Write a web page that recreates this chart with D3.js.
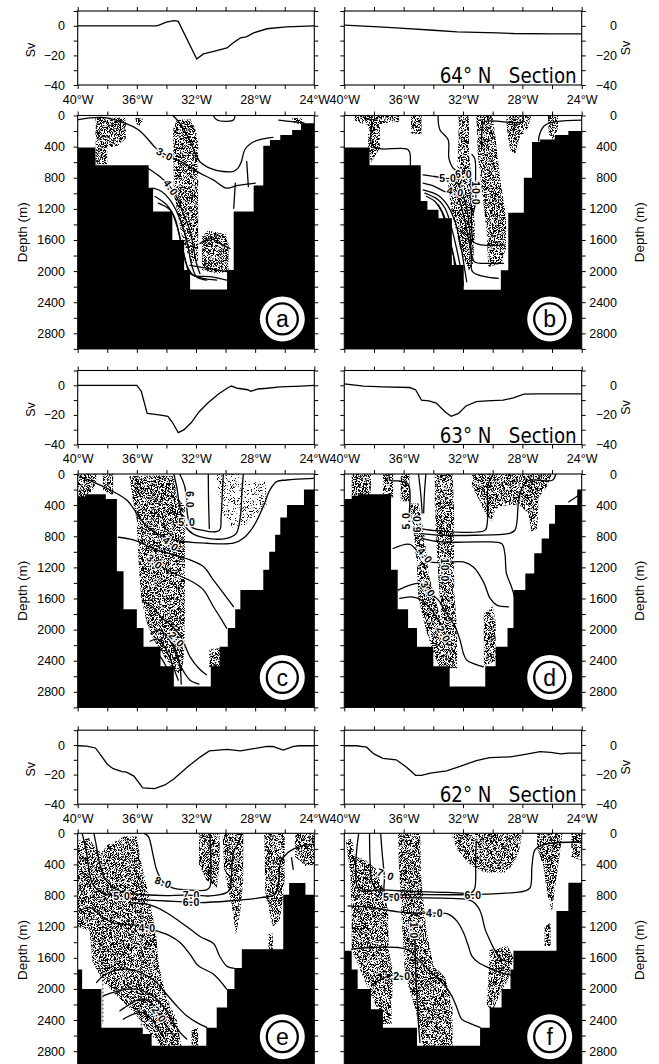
<!DOCTYPE html>
<html>
<head>
<meta charset="utf-8">
<script src="https://cdn.jsdelivr.net/npm/d3@7"></script>
<style>
  html, body { margin: 0; padding: 0; background: #fff; }
  svg { display: block; font-family: "Liberation Sans", Arial, sans-serif; }
</style>
</head>
<body>
<svg id="fig" width="659" height="1064"></svg>
<script>
// ---------------- axis tick values ----------------
const LON_LABELS = [-40, -36, -32, -28, -24];
const DEPTH_LABELS = [0, 400, 800, 1200, 1600, 2000, 2400, 2800];
const SV_LABELS = [0, -20, -40];
const SECTIONS = ["64° N   Section", "63° N   Section", "62° N   Section"];
const LETTERS = ["a", "b", "c", "d", "e", "f"];

// ---------------- accumulated transport (Sv) vs longitude ----------------
const sv64W = [[-40,0],[-34.7,0],[-34.5,0.5],[-34.0,2.5],[-33.5,3.5],[-33.2,3],[-31.95,-22.5],[-31.5,-19],[-30.8,-17.3],[-29.9,-15],[-29.5,-11.6],[-29.0,-8.2],[-28.6,-7.5],[-28.1,-4.8],[-27.2,-2],[-25.9,-0.7],[-24,0]];
const sv64E = [[-40,0.5],[-38,-0.5],[-36.5,-1.4],[-34,-3],[-32.4,-4.1],[-29.7,-4.8],[-28.6,-5.2],[-26,-5.5],[-24,-5.5]];
const sv63W = [[-40,0],[-36.0,0],[-35.7,-4],[-35.3,-19],[-34.9,-19.5],[-34.5,-20],[-33.9,-21],[-33.6,-25],[-33.2,-32],[-32.8,-30],[-32.3,-25],[-31.8,-18],[-31.2,-12],[-30.5,-6],[-29.9,-2],[-29.6,-0.5],[-29.2,-2],[-28.5,-3],[-28.3,-4],[-27.8,-2.5],[-27.2,-2],[-26.3,-1],[-24.9,-0.5],[-24,0]];
const sv63E = [[-40,1],[-38.7,-0.5],[-37.4,-1],[-35.6,-1.5],[-35.2,-3],[-34.8,-10],[-34.3,-10.5],[-33.8,-12],[-33.2,-18],[-32.8,-21],[-32.3,-19],[-31.8,-14],[-31.1,-11],[-30.4,-10.5],[-29.3,-10],[-28.6,-8.5],[-27.9,-6],[-27.0,-5.8],[-24,-5.8]];
const sv62W = [[-40,-0.5],[-39.4,-0.7],[-38.8,-2],[-38.5,-6],[-38.0,-13],[-37.6,-16],[-37.0,-18],[-36.7,-18.3],[-36.2,-21],[-35.6,-29],[-34.8,-29.5],[-34.1,-27],[-33.5,-23],[-32.6,-15],[-31.7,-8],[-31.1,-4],[-29.9,-3],[-29.0,-4],[-28.1,-2.5],[-27.2,-1],[-26.8,-1],[-26.1,-3.5],[-25.4,-1],[-25.0,-0.5],[-24,-0.5]];
const sv62E = [[-40,-0.5],[-39.2,-0.5],[-38.5,-1.5],[-38.0,-6],[-37.4,-9],[-36.5,-10],[-35.8,-15],[-35.2,-20.5],[-34.8,-20.5],[-34.2,-19],[-33.1,-17.5],[-32.2,-14.5],[-31.1,-10.5],[-30.2,-8.5],[-28.8,-8],[-27.9,-6.5],[-26.8,-4.5],[-26.1,-5],[-25.4,-6],[-24.9,-5.5],[-24,-5.5]];

// ---------------- model bottom: [lon where step starts, depth m] ----------------
const bathyA = [[-40,410],[-38.8,640],[-35.2,930],[-34.9,1235],[-33.6,1600],[-32.8,1985],[-32.4,2235],[-29.9,1985],[-29.45,1235],[-28.1,900],[-27.45,390],[-27.0,316],[-26.3,251],[-25.5,187],[-24.9,101],[-24,101]];
const bathyB = [[-40,410],[-38.3,640],[-34.85,1100],[-34.4,1210],[-33.65,1320],[-32.75,1920],[-31.95,2240],[-29.45,1990],[-28.95,1250],[-27.9,800],[-27.35,340],[-26.8,310],[-25.8,250],[-24.9,200],[-24,200]];
const bathyC = [[-40,290],[-39.5,260],[-38.1,320],[-37.35,1250],[-36.9,1740],[-36.0,1980],[-35.55,2220],[-34.4,2470],[-33.5,2730],[-31.0,2470],[-30.4,2220],[-29.85,1980],[-29.35,1740],[-29.0,1490],[-27.45,1230],[-27.05,1000],[-26.65,780],[-26.3,560],[-25.85,400],[-24.7,200],[-24,200]];
const bathyD = [[-40,320],[-39.5,280],[-39.05,260],[-36.85,1230],[-36.4,1740],[-35.7,1980],[-35.1,2220],[-34.0,2470],[-32.9,2730],[-30.5,2470],[-29.8,2220],[-29.0,1980],[-28.6,1490],[-27.8,1280],[-27.2,1020],[-26.7,830],[-26.2,640],[-25.8,400],[-24.3,200],[-24,200]];
const bathyE = [[-40,1750],[-39.7,2000],[-38.4,2500],[-35.6,2580],[-35.0,2730],[-31.3,2500],[-30.6,2240],[-29.9,2000],[-29.4,1730],[-28.9,1490],[-26.1,790],[-25.7,640],[-24.6,790],[-24,790]];
const bathyF = [[-40,1510],[-39.5,1750],[-39.1,2000],[-38.2,2260],[-37.4,2500],[-35.1,2730],[-30.85,2500],[-30.2,2240],[-29.4,2000],[-28.8,1750],[-28.6,1510],[-25.7,1000],[-24.9,635],[-24,635]];

// ---------------- shaded regions: [lon, depth] outlines ----------------
const stipA = [
  [[-38.8,30],[-36.75,30],[-36.75,300],[-37.3,390],[-38.0,410],[-38.0,625],[-38.8,625]],
  [[-33.3,60],[-32.4,40],[-32.1,150],[-31.85,300],[-31.85,1860],[-32.3,1900],[-32.9,1600],[-33.5,1000],[-33.55,180]],
  [[-31.6,1560],[-31.2,1480],[-30.6,1500],[-30.0,1530],[-29.8,1650],[-29.8,2000],[-30.5,2030],[-31.6,1990]],
  [[-36.1,30],[-35.6,40],[-35.7,140],[-36.0,120]],
  [[-25.5,30],[-24.8,40],[-24.9,110],[-25.4,100]]
];
const stipB = [
  [[-39.3,0],[-36.3,0],[-36.3,80],[-37.4,100],[-37.6,130],[-37.6,420],[-38.2,600],[-38.4,400],[-38.4,120],[-38.9,100],[-39.3,60]],
  [[-35.5,0],[-34.8,0],[-34.8,240],[-35.5,240]],
  [[-32.3,0],[-31.6,0],[-31.6,500],[-31.3,1000],[-31.2,1500],[-31.3,1900],[-31.6,2000],[-32.2,1700],[-32.8,1200],[-33.0,900],[-32.4,700],[-32.3,300]],
  [[-31.1,0],[-30.0,0],[-29.8,300],[-29.5,800],[-29.1,1300],[-29.1,1700],[-29.4,1900],[-30.3,1950],[-30.4,1500],[-30.7,1000],[-31.0,500]],
  [[-29.1,0],[-27.4,0],[-27.6,150],[-28.2,300],[-28.5,500],[-28.8,450],[-29.0,250]],
  [[-26.3,0],[-25.6,0],[-25.6,150],[-25.9,330],[-26.2,250]]
];
const stipC = [
  [[-40,0],[-38.7,0],[-38.8,150],[-39.4,300],[-40,300]],
  [[-38.3,0],[-37.6,0],[-37.6,280],[-38.3,200]],
  [[-36.5,30],[-35.1,20],[-34.4,20],[-33.5,30],[-33.3,300],[-32.75,420],[-32.75,1900],[-32.8,2300],[-33.0,2600],[-33.6,2500],[-34.5,2250],[-35.1,2050],[-35.4,1850],[-35.7,1600],[-35.9,1100],[-36.0,600],[-36.3,300]],
  [[-31.1,2250],[-30.25,2240],[-30.25,2480],[-31.1,2480]]
];
const stipCSparse = [
  [[-30.6,0],[-29.1,0],[-28.6,100],[-27.3,100],[-27.2,400],[-28.6,650],[-29.5,700],[-30.2,500],[-30.6,200]]
];
const stipD = [
  [[-39.5,0],[-38.2,0],[-38.2,280],[-39.5,280]],
  [[-37.4,0],[-36.7,0],[-36.7,300],[-37.4,300]],
  [[-36.2,0],[-35.6,0],[-35.6,350],[-36.2,350]],
  [[-35.6,380],[-35.0,380],[-34.6,800],[-34.3,1300],[-33.6,1800],[-33.1,2200],[-32.9,2450],[-33.6,2470],[-34.0,2300],[-34.5,2000],[-35.0,1600],[-35.1,1200],[-35.3,800]],
  [[-33.9,0],[-32.7,0],[-32.6,500],[-32.6,1500],[-32.4,2000],[-32.4,2500],[-33.1,2500],[-33.4,2000],[-33.6,1500],[-33.8,900],[-33.9,400]],
  [[-31.4,0],[-26.0,0],[-26.3,150],[-26.9,300],[-27.0,700],[-27.4,740],[-27.6,500],[-28.2,400],[-29.0,400],[-29.8,450],[-30.1,600],[-30.5,500],[-31.0,300],[-31.4,150]],
  [[-30.6,1800],[-30.0,1700],[-29.8,1900],[-29.8,2400],[-30.6,2470]]
];
const stipE = [
  [[-40,100],[-39.2,60],[-38.8,200],[-38.4,250],[-38.0,150],[-37.4,100],[-36.9,40],[-36.0,40],[-35.8,300],[-35.3,700],[-35.0,1000],[-34.7,1300],[-34.5,1700],[-34.0,2100],[-33.3,2400],[-33.0,2730],[-34.4,2730],[-35.4,2500],[-36.2,2300],[-37.3,2100],[-38.3,1900],[-39.0,1650],[-39.2,1250],[-40,1200]],
  [[-31.8,0],[-30.4,0],[-30.4,400],[-30.6,700],[-31.3,600],[-31.8,400]],
  [[-30.2,0],[-28.8,0],[-28.8,600],[-29.0,1000],[-29.3,1300],[-29.6,900],[-30.1,500]],
  [[-27.4,0],[-26.0,0],[-26.0,600],[-26.3,1100],[-26.8,1200],[-27.3,800]],
  [[-27.1,1300],[-26.8,1280],[-26.8,1500],[-27.1,1500]],
  [[-25.3,0],[-24.0,0],[-24.0,400],[-24.6,420],[-25.3,300]],
  [[-32.3,2520],[-31.85,2500],[-31.85,2730],[-32.3,2730]]
];
const stipF = [
  [[-39.9,100],[-39.5,60],[-39.3,300],[-38.7,330],[-37.9,450],[-37.4,700],[-37.05,1000],[-37.0,1500],[-36.7,1800],[-36.8,2200],[-36.8,2450],[-37.5,2450],[-37.9,2200],[-38.6,1900],[-39.5,1500],[-39.5,1000],[-39.6,500]],
  [[-36.4,0],[-34.9,0],[-34.8,600],[-34.5,1200],[-34.0,1700],[-33.2,1850],[-32.7,2250],[-32.7,2730],[-34.7,2730],[-35.2,2260],[-35.9,1830],[-36.1,1200],[-36.3,500]],
  [[-32.8,0],[-28.0,0],[-28.25,250],[-28.7,420],[-29.2,505],[-30.5,505],[-31.4,420],[-32.3,250]],
  [[-27.0,0],[-25.3,0],[-25.5,300],[-25.8,700],[-26.0,1000],[-26.3,800],[-26.6,400],[-27.0,200]],
  [[-24.7,0],[-24.0,0],[-24.0,350],[-24.7,300]],
  [[-26.5,1200],[-26.1,1150],[-26.1,1450],[-26.5,1450]],
  [[-30.2,1500],[-29.0,1450],[-28.6,1600],[-29.0,1900],[-29.5,2050],[-30.0,2300],[-30.4,2200],[-30.3,1900]]
];

// ---------------- isotherms: [lon, depth] ----------------
const contA = [
  [[-39.96,54],[-38.38,24],[-36.8,97],[-35.9,183],[-35.22,311],[-34.77,410],[-34.3,480],[-33.53,548],[-32.63,634],[-31.73,741],[-30.83,827],[-29.93,934],[-29.25,900],[-28.57,883],[-28.0,870]],
  [[-33.56,0],[-33.1,97],[-32.5,290],[-32.1,462],[-31.75,591],[-31.07,676],[-30.17,720],[-29.5,720],[-29.16,676],[-28.93,591],[-28.7,440],[-28.25,354],[-27.7,311],[-26.8,281]],
  [[-35.22,681],[-34.43,788],[-33.98,865],[-33.31,1046],[-32.86,1261],[-32.41,1476],[-32.18,1690],[-31.96,1905],[-31.73,2034]],
  [[-34.89,934],[-34.32,977],[-33.76,1085],[-33.31,1235],[-32.86,1450],[-32.52,1707],[-32.29,1922],[-31.96,2072],[-31.28,2115]],
  [[-34.77,1041],[-33.98,1149],[-33.42,1321],[-33.08,1578],[-32.74,1836],[-32.41,2029],[-31.51,2094],[-30.6,2115]],
  [[-34.55,1127],[-33.76,1213],[-33.31,1407],[-32.97,1664],[-32.63,1922],[-32.18,2051],[-31.05,2072],[-29.93,2115]],
  [[-31.73,1647],[-31.05,1583],[-30.37,1647],[-29.7,1712]],
  [[-32.41,1926],[-31.05,1969],[-29.7,2012]],
  [[-28.57,591],[-28.46,913]],
  [[-29.34,870],[-29.45,1192]],
  [[-30.83,0],[-30.6,55],[-29.9,75],[-29.45,55],[-29.36,0]],
  [[-26.4,60],[-25.5,80],[-24.7,95]]
];
const contB = [
  [[-38.6,40],[-38.2,60],[-38.2,350],[-37.9,410],[-37.5,430],[-35.8,430],[-35.6,470],[-35.55,640]],
  [[-33.68,0],[-33.56,183],[-33.0,311],[-32.95,548],[-32.66,676],[-32.2,728],[-31.76,754],[-31.52,805],[-31.45,1106],[-31.41,1450],[-31.3,1621],[-30.74,1664],[-29.16,1664]],
  [[-34.68,762],[-33.9,784],[-33.33,805],[-32.88,815],[-32.42,857],[-32.09,977],[-31.75,1192],[-31.52,1535],[-31.41,1793],[-31.19,1887],[-30.52,1900],[-29.27,1900]],
  [[-34.68,870],[-33.9,913],[-33.22,977],[-32.65,986],[-32.31,1063],[-31.97,1278],[-31.68,1535],[-31.45,1793],[-31.36,2008],[-30.52,2072],[-29.61,2094]],
  [[-34.68,956],[-33.66,1029],[-32.99,1170],[-32.54,1364],[-32.2,1621],[-31.97,1879],[-31.75,2137]],
  [[-34.57,999],[-33.66,1085],[-33.21,1192],[-32.88,1364],[-32.54,1621],[-32.2,1922],[-31.97,2180]],
  [[-34.45,1041],[-33.89,1106],[-33.44,1235],[-33.1,1450],[-32.76,1707],[-32.43,1965]],
  [[-33.66,1149],[-33.21,1321],[-32.99,1536],[-32.65,1793],[-32.54,2051]],
  [[-31.4,500],[-31.2,560],[-31.15,800],[-31.15,1100],[-31.3,1250]],
  [[-30.75,400],[-30.7,150],[-30.55,80],[-28.0,80],[-27.95,0]],
  [[-26.9,330],[-26.85,250],[-26.5,130],[-25.7,80],[-24,60]]
];
const contC = [
  [[-33.1,0],[-32.75,170],[-32.55,550],[-32.3,680],[-31.5,725],[-30.9,745],[-30.4,720],[-30.3,550],[-30.2,170],[-30.15,0]],
  [[-33.5,0],[-33.3,170],[-33.1,420],[-32.8,650],[-32.2,770],[-31.1,830],[-30.0,830],[-29.3,770],[-29.0,550],[-28.9,250],[-28.8,0]],
  [[-39.84,34],[-38.26,163],[-36.69,334],[-36.01,505],[-35.33,676],[-34.66,762],[-33.53,847],[-31.28,890],[-29.47,890],[-28.8,826],[-28.12,676],[-27.45,419],[-27.0,205],[-26.55,98],[-25.87,77],[-24.07,56]],
  [[-31.17,0],[-31.15,350],[-31.1,700]],
  [[-37.25,813],[-36.24,847],[-34.66,976],[-33.08,1061],[-32.4,1104],[-31.5,1190],[-30.83,1361],[-30.15,1532],[-29.47,1703]],
  [[-35.33,1083],[-33.98,1232],[-32.29,1382],[-31.5,1489],[-30.83,1703],[-30.26,1874],[-29.93,1981]],
  [[-35.6,1640],[-35.0,1700],[-34.3,1850],[-33.6,1960],[-33.0,2100],[-32.4,2350],[-31.8,2500],[-31.3,2580]],
  [[-35.0,2050],[-34.5,2000],[-34.0,2080],[-33.6,2200],[-33.2,2400],[-32.8,2550],[-32.4,2650],[-31.8,2700]],
  [[-35.1,2150],[-34.6,2120],[-34.2,2200],[-33.8,2350],[-33.5,2500],[-33.2,2650]],
  [[-34.6,2300],[-34.3,2380],[-34.0,2480]],
  [[-33.8,2050],[-33.4,2250],[-33.1,2450],[-33.0,2700]]
];
const contD = [
  [[-37.0,0],[-36.9,80],[-36.3,90],[-35.7,130],[-35.65,550]],
  [[-35.0,0],[-34.85,250],[-34.75,500]],
  [[-34.5,0],[-34.6,250],[-34.65,500]],
  [[-34.83,702],[-34.15,723],[-30.52,723],[-30.37,638],[-30.29,124],[-29.95,0]],
  [[-34.83,766],[-33.47,787],[-31.22,787],[-28.96,766],[-28.5,723],[-28.25,338],[-28.0,167],[-27.56,81],[-25.98,81],[-25.75,0]],
  [[-34.72,830],[-33.47,873],[-30.77,873],[-29.4,894],[-29.18,1023],[-29.07,1279],[-28.73,1451],[-28.5,1600]],
  [[-36.71,958],[-35.58,903],[-34.9,1031],[-34.23,1130],[-31.97,1130],[-31.3,1194],[-30.62,1386],[-30.17,1600],[-29.72,1686],[-28.93,1707]],
  [[-36.37,1493],[-35.58,1429],[-34.9,1408],[-34.45,1493],[-33.66,1622],[-33.1,1793],[-32.54,1964],[-32.2,2135],[-31.97,2306],[-31.75,2392],[-31.19,2443],[-30.63,2478]],
  [[-36.26,1600],[-35.47,1579],[-34.79,1622],[-34.11,1750],[-33.66,1878],[-33.21,2050],[-33.0,2200]],
  [[-24.88,359],[-24.2,274]]
];
const contE = [
  [[-35.5,0],[-35.22,43],[-34.88,300],[-34.66,471],[-34.2,633],[-33.53,706],[-32.63,727],[-31.28,727],[-31.05,685],[-31.0,471],[-31.05,0]],
  [[-38.9,0],[-38.75,150],[-38.5,400],[-38.1,600],[-37.4,720],[-36.6,770],[-35.5,790],[-34.0,800],[-32.9,795],[-31.6,800],[-31.05,805],[-29.93,762],[-29.7,720],[-29.59,505],[-29.48,248],[-29.25,163],[-29.0,60],[-28.9,0]],
  [[-39.7,0],[-39.45,200],[-39.25,450],[-39.0,650],[-38.4,760],[-37.6,800],[-36.5,840],[-35.5,855],[-34.5,865],[-33.5,875],[-32.5,885],[-31.7,890],[-29.8,870],[-27.6,826],[-26.65,783],[-26.4,600],[-26.3,380],[-25.8,250],[-24.9,165],[-24.0,140]],
  [[-36.5,890],[-35.8,900],[-35.3,910],[-34.7,950],[-33.9,1030],[-33.2,1120],[-32.4,1230],[-31.7,1330],[-30.8,1420],[-30.4,1580],[-29.9,1710],[-29.4,1735]],
  [[-39.9,1000],[-39.2,955],[-38.3,1080],[-37.6,1150],[-35.8,1190],[-34.66,1254],[-33.76,1318],[-33.08,1404],[-32.41,1553],[-31.84,1703],[-30.83,1810],[-29.93,2003]],
  [[-38.72,1917],[-38.27,1832],[-37.59,1768],[-36.69,1746],[-36.01,1768],[-35.33,1832],[-34.66,1917],[-34.09,2046],[-33.31,2217],[-32.63,2345],[-31.96,2431],[-31.28,2495]],
  [[-38.27,2089],[-37.59,2046],[-36.69,2003],[-36.01,2003],[-35.33,2046],[-34.66,2131],[-34.09,2260],[-33.53,2431],[-33.08,2559],[-32.63,2645]],
  [[-37.14,2281],[-36.46,2196],[-35.78,2131],[-35.22,2153],[-34.77,2238],[-34.43,2367],[-33.98,2474],[-33.53,2602]],
  [[-36.91,2388],[-36.24,2324],[-35.67,2302],[-35.22,2345],[-34.77,2452],[-34.43,2559],[-34.09,2645]],
  [[-25.54,312],[-25.43,462]]
];
const contF = [
  [[-39.03,0],[-39.03,719],[-37.5,728],[-35.02,750],[-33.0,760],[-31.4,760],[-31.2,700],[-31.15,300],[-31.1,100]],
  [[-38.3,0],[-38.25,400],[-38.1,640],[-37.5,770],[-35.0,785],[-32.54,790],[-30.51,783],[-27.81,740],[-27.47,698],[-27.35,420],[-27.13,206],[-26.46,141],[-23.86,112]],
  [[-37.55,0],[-37.45,250],[-37.3,560],[-37.27,783],[-36.82,817],[-35.92,826],[-31.86,847],[-31.41,869],[-30.96,954],[-30.73,1061],[-30.51,1232],[-30.17,1382],[-29.83,1511],[-29.38,1618],[-29.0,1650]],
  [[-39.75,933],[-38.17,955],[-36.37,1010],[-35.02,1027],[-33.89,1027],[-32.99,1040],[-32.42,1126],[-31.97,1275],[-31.64,1447],[-31.41,1575],[-30.96,1661],[-30.06,1746],[-29.16,1810],[-28.7,1823]],
  [[-39.52,1490],[-38.17,1468],[-36.37,1468],[-35.58,1511],[-35.24,1575],[-34.57,1704],[-33.89,1832],[-33.22,1960],[-32.76,2089],[-32.42,2238],[-32.09,2388],[-31.41,2452],[-30.85,2495]],
  [[-38.17,1960],[-37.5,1875],[-36.71,1819],[-36.14,1840],[-35.6,1900]],
  [[-35.24,1318],[-35.2,1700],[-35.1,2100],[-35.0,2450],[-34.9,2688]]
];
const dashE = [[[-38.3,750],[-38.3,2450]],[[-35.7,800],[-35.7,2550]]];

// ---------------- isotherm labels: [lon, depth, text, angle] ----------------
const labA = [[-34.1,500,"3.0",28],[-33.7,930,"4.0",55]];
const labB = [[-31.95,760,"6.0",0],[-33.0,812,"5.0",0],[-32.5,980,"4.0",10],[-31.14,1000,"10.0",90]];
const labC = [[-32.45,330,"6.0",90],[-32.6,620,"5.0",0],[-33.7,900,"4.0",40],[-34.8,1130,"3.0",40],[-33.3,2130,"2.0",45]];
const labD = [[-35.85,600,"5.0",-90],[-35.05,640,"6.0",-90],[-34.55,1050,"4.0",50],[-34.35,1480,"3.0",55],[-33.3,2060,"2.0",60],[-33.25,1236,"10.0",90]];
const labE = [[-34.2,633,"8.0",20],[-32.3,793,"7.0",0],[-32.3,882,"6.0",0],[-37.0,815,"5.0",0],[-35.3,1222,"4.0",0],[-34.5,2330,"2.0",55]];
const labF = [[-31.3,792,"6.0",0],[-36.8,817,"5.0",0],[-33.9,1027,"4.0",0],[-37.2,530,"7.0",20],[-36.1,1840,"2.0",0],[-35.3,1250,"1.0",90]];

// ---------------- layout ----------------
const W = 659, H = 1064;
const COLS = [{x0: 77.7, x1: 314.3}, {x0: 344.3, x1: 581.7}];
const ROWS = [{sv: 11, dep: 115.5}, {sv: 370.5, dep: 474}, {sv: 730.2, dep: 833.3}];
const SV_H = 74, DEP_H = 233.4;
const TICK_FONT = 12.5;

const panels = [
  {sv: sv64W, bathy: bathyA, stip: stipA, sparse: [], lines: contA, labels: labA, dashed: []},
  {sv: sv64E, bathy: bathyB, stip: stipB, sparse: [], lines: contB, labels: labB, dashed: []},
  {sv: sv63W, bathy: bathyC, stip: stipC, sparse: stipCSparse, lines: contC, labels: labC, dashed: []},
  {sv: sv63E, bathy: bathyD, stip: stipD, sparse: [], lines: contD, labels: labD, dashed: []},
  {sv: sv62W, bathy: bathyE, stip: stipE, sparse: [], lines: contE, labels: labE, dashed: dashE},
  {sv: sv62E, bathy: bathyF, stip: stipF, sparse: [], lines: contF, labels: labF, dashed: []}
];

const svg = d3.select("#fig");
svg.append("rect").attr("width", W).attr("height", H).attr("fill", "#fff");
const defs = svg.append("defs");

// speckled shading: fine noise thresholded into black grains, kept inside each outline
function speckle(id, gain, bias) {
  const f = defs.append("filter").attr("id", id)
    .attr("filterUnits", "userSpaceOnUse").attr("x", 0).attr("y", 0)
    .attr("width", W).attr("height", H);
  f.append("feTurbulence").attr("type", "fractalNoise").attr("baseFrequency", 1.3)
    .attr("numOctaves", 1).attr("seed", 11).attr("result", "n");
  f.append("feColorMatrix").attr("in", "n").attr("type", "matrix")
    .attr("values", `0 0 0 0 0  0 0 0 0 0  0 0 0 0 0  ${gain} 0 0 0 ${bias}`).attr("result", "d");
  f.append("feComposite").attr("in", "d").attr("in2", "SourceGraphic").attr("operator", "in");
}
speckle("stip", 12, -5.6);
speckle("stipSparse", 12, -6.9);

const fmtLon = v => `${-v}°W`;
const fmtSv = v => (v < 0 ? `\u2212${-v}` : `${v}`);

function styleAxis(g) {
  g.select(".domain").remove();
  g.selectAll(".tick line").attr("stroke", "#000").attr("stroke-width", 1);
  g.selectAll("text").attr("fill", "#000").attr("font-size", TICK_FONT)
    .attr("font-family", "Liberation Sans, Arial, sans-serif");
  g.attr("font-size", null).attr("font-family", null);
}

function drawPanel(p, i) {
  const col = COLS[i % 2], row = ROWS[Math.floor(i / 2)], right = i % 2 === 1;
  const x = d3.scaleLinear().domain([-40, -24]).range([col.x0, col.x1]);
  const ySv = d3.scaleLinear().domain([-40, 10]).range([row.sv + SV_H, row.sv]);
  const yD = d3.scaleLinear().domain([0, 3000]).range([row.dep, row.dep + DEP_H]);
  const g = svg.append("g");

  // ----- transport panel -----
  const svLine = d3.line().x(d => x(d[0])).y(d => ySv(d[1]));
  g.append("path").datum(p.sv).attr("d", svLine)
    .attr("fill", "none").attr("stroke", "#000").attr("stroke-width", 1.3);
  g.append("rect").attr("x", col.x0).attr("y", row.sv)
    .attr("width", col.x1 - col.x0).attr("height", SV_H)
    .attr("fill", "none").attr("stroke", "#000").attr("stroke-width", 1.1);

  const svVals = d3.range(-40, 11, 10);
  const svMain = (right ? d3.axisRight(ySv) : d3.axisLeft(ySv))
    .tickValues(svVals).tickSize(4).tickPadding(8.7)
    .tickFormat(v => SV_LABELS.includes(v) ? fmtSv(v) : "");
  const gm = g.append("g").attr("transform", `translate(${right ? col.x1 : col.x0},0)`).call(svMain);
  styleAxis(gm);
  if (right) gm.selectAll("text").attr("text-anchor", "end").attr("x", 617 - col.x1);
  const svOpp = (right ? d3.axisLeft(ySv) : d3.axisRight(ySv)).tickValues(svVals).tickSize(4).tickFormat("");
  styleAxis(g.append("g").attr("transform", `translate(${right ? col.x0 : col.x1},0)`).call(svOpp));

  const lonMinor = d3.range(-40, -23, 2);
  styleAxis(g.append("g").attr("transform", `translate(0,${row.sv})`)
    .call(d3.axisTop(x).tickValues(lonMinor).tickSize(4).tickFormat("")));
  styleAxis(g.append("g").attr("transform", `translate(0,${row.sv + SV_H})`)
    .call(d3.axisBottom(x).tickValues(lonMinor).tickSize(4).tickFormat("")));
  styleAxis(g.append("g").attr("transform", `translate(0,${row.sv + SV_H})`)
    .call(d3.axisBottom(x).tickValues(LON_LABELS).tickSize(0).tickPadding(10).tickFormat(fmtLon)));

  g.append("text").text("Sv")
    .attr("transform", `translate(${right ? 630 : 35},${row.sv + (right ? 37 : 39)}) rotate(-90)`)
    .attr("text-anchor", "middle").attr("font-size", 12.5).attr("fill", "#000");

  if (right) {
    g.append("text").text(SECTIONS[Math.floor(i / 2)])
      .style("white-space", "pre")
      .attr("x", col.x1 - 142).attr("y", row.sv + SV_H - 1.8)
      .attr("textLength", 137).attr("lengthAdjust", "spacingAndGlyphs")
      .attr("font-family", "Liberation Sans Narrow, DejaVu Sans Condensed, Arial Narrow, sans-serif")
      .attr("font-size", 21).attr("fill", "#000");
  }

  // ----- depth section -----
  const clipId = `clip${i}`;
  defs.append("clipPath").attr("id", clipId).append("rect")
    .attr("x", col.x0).attr("y", row.dep).attr("width", col.x1 - col.x0).attr("height", DEP_H);
  const sec = g.append("g").attr("clip-path", `url(#${clipId})`);
  sec.append("rect").attr("x", col.x0).attr("y", row.dep)
    .attr("width", col.x1 - col.x0).attr("height", DEP_H).attr("fill", "#fff");

  const outline = d3.line().curve(d3.curveLinearClosed).x(d => x(d[0])).y(d => yD(d[1]));
  sec.append("g").attr("filter", "url(#stip)").selectAll("path").data(p.stip).join("path")
    .attr("d", outline).attr("fill", "#000");
  sec.append("g").attr("filter", "url(#stipSparse)").selectAll("path").data(p.sparse).join("path")
    .attr("d", outline).attr("fill", "#000");

  const iso = d3.line().curve(d3.curveCatmullRom.alpha(0.5)).x(d => x(d[0])).y(d => yD(d[1]));
  sec.append("g").selectAll("path").data(p.lines).join("path")
    .attr("d", iso).attr("fill", "none").attr("stroke", "#000")
    .attr("stroke-width", 1.3).attr("stroke-linejoin", "round").attr("stroke-linecap", "round");
  const straight = d3.line().x(d => x(d[0])).y(d => yD(d[1]));
  sec.append("g").selectAll("path").data(p.dashed).join("path")
    .attr("d", straight).attr("fill", "none").attr("stroke", "#000")
    .attr("stroke-width", 0.8).attr("stroke-dasharray", "2,2");

  sec.append("g").selectAll("text").data(p.labels).join("text")
    .attr("transform", d => `translate(${x(d[0])},${yD(d[1])}) rotate(${d[3]})`)
    .attr("dy", "0.35em").attr("text-anchor", "middle")
    .attr("font-size", 10.5).attr("font-weight", "bold").attr("letter-spacing", 1)
    .attr("fill", "#000").attr("stroke", "#fff").attr("stroke-width", 2.4)
    .attr("paint-order", "stroke").text(d => d[2]);

  const bottom = d3.area().curve(d3.curveStepAfter)
    .x(d => x(d[0])).y0(yD(3000)).y1(d => yD(d[1]));
  sec.append("path").datum(p.bathy).attr("d", bottom).attr("fill", "#000");

  g.append("rect").attr("x", col.x0).attr("y", row.dep)
    .attr("width", col.x1 - col.x0).attr("height", DEP_H)
    .attr("fill", "none").attr("stroke", "#000").attr("stroke-width", 1.1);

  const dVals = d3.range(0, 3001, 200);
  const dMain = (right ? d3.axisRight(yD) : d3.axisLeft(yD))
    .tickValues(dVals).tickSize(4).tickPadding(8.7)
    .tickFormat(v => DEPTH_LABELS.includes(v) ? `${v}` : "");
  const gd = g.append("g").attr("transform", `translate(${right ? col.x1 : col.x0},0)`).call(dMain);
  styleAxis(gd);
  if (right) gd.selectAll("text").attr("text-anchor", "end").attr("x", 617 - col.x1);
  styleAxis(g.append("g").attr("transform", `translate(${right ? col.x0 : col.x1},0)`)
    .call((right ? d3.axisLeft(yD) : d3.axisRight(yD)).tickValues(dVals).tickSize(4).tickFormat("")));
  styleAxis(g.append("g").attr("transform", `translate(0,${row.dep})`)
    .call(d3.axisTop(x).tickValues(lonMinor).tickSize(4).tickFormat("")));
  styleAxis(g.append("g").attr("transform", `translate(0,${row.dep + DEP_H})`)
    .call(d3.axisBottom(x).tickValues(lonMinor).tickSize(4).tickFormat("")));

  g.append("text").text("Depth (m)")
    .attr("transform", `translate(${right ? 644 : 27},${row.dep + DEP_H / 2}) rotate(-90)`)
    .attr("text-anchor", "middle").attr("font-size", 13.5).attr("fill", "#000");

  // panel letter in a ringed disc
  const cx = col.x1 - 32, cy = yD(3000) - 30;
  g.append("circle").attr("cx", cx).attr("cy", cy).attr("r", 22.5).attr("fill", "#fff");
  g.append("circle").attr("cx", cx).attr("cy", cy).attr("r", 15.5)
    .attr("fill", "#fff").attr("stroke", "#000").attr("stroke-width", 2.3);
  g.append("text").attr("x", cx).attr("y", cy).attr("dy", "0.36em")
    .attr("text-anchor", "middle").attr("font-size", 23).attr("fill", "#000")
    .text(LETTERS[i]);
}

panels.forEach(drawPanel);
</script>
</body>
</html>
